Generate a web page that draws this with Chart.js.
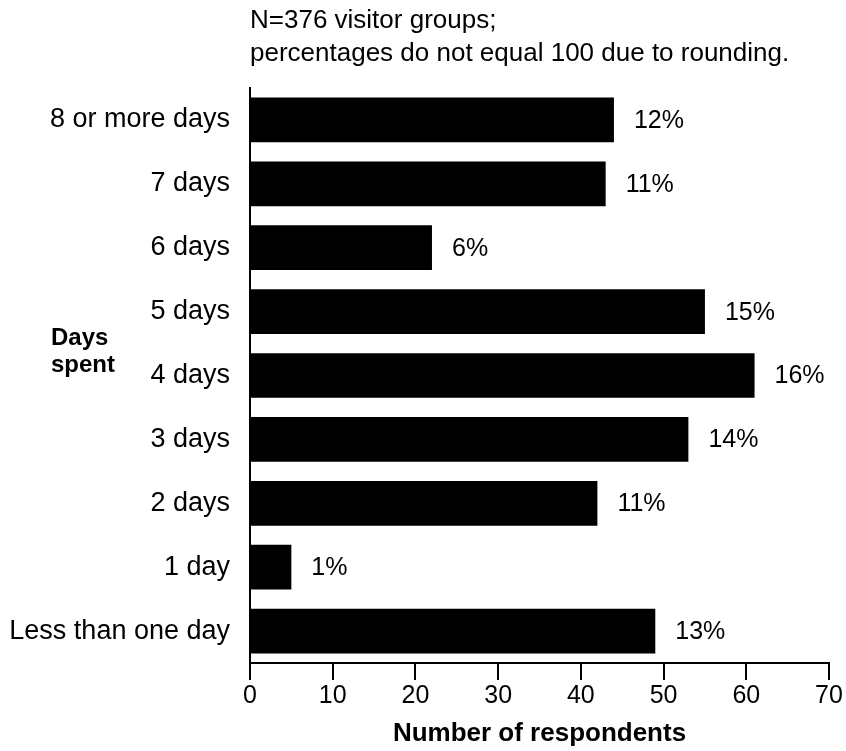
<!DOCTYPE html>
<html>
<head>
<meta charset="utf-8">
<script src="https://cdn.jsdelivr.net/npm/chart.js@4.4.1/dist/chart.umd.min.js"></script>
<style>
    html, body { margin: 0; padding: 0; background: #fff; }
    #wrap { width: 846px; height: 751px; }
</style>
</head>
<body>
<div id="wrap"><canvas id="diasGrafico" width="846" height="751"></canvas></div>
<script>
var categorias = ['8 or more days', '7 days', '6 days', '5 days', '4 days', '3 days', '2 days', '1 day', 'Less than one day'];
var respondents = [44, 43, 22, 55, 61, 53, 42, 5, 49];
var porcentajes = ['12%', '11%', '6%', '15%', '16%', '14%', '11%', '1%', '13%'];
var xMin = 0;
var xMax = 70;
var xStep = 10;
var notaLineas = ['N=376 visitor groups;', 'percentages do not equal 100 due to rounding.'];
var tituloY = ['Days', 'spent'];
var tituloX = 'Number of respondents';

var fuente = '"Liberation Sans", Arial, Helvetica, sans-serif';

// textos sueltos: nota de arriba, titulo del eje y, porcentajes al final de cada barra
var textosPlugin = {
    id: 'textos',
    afterDraw: function (chart) {
        let ctx = chart.ctx;
        ctx.save();
        ctx.fillStyle = '#000';
        ctx.textAlign = 'left';
        ctx.textBaseline = 'alphabetic';
        ctx.font = '26px ' + fuente;
        ctx.fillText(notaLineas[0], 250, 28);
        ctx.fillText(notaLineas[1], 250, 61);

        ctx.font = 'bold 24px ' + fuente;
        ctx.fillText(tituloY[0], 51, 345);
        ctx.fillText(tituloY[1], 51, 372);

        ctx.font = '25px ' + fuente;
        ctx.textBaseline = 'middle';
        let barras = chart.getDatasetMeta(0).data;
        for (let i = 0; i < barras.length; i++) {
            ctx.fillText(porcentajes[i], barras[i].x + 20, barras[i].y + 1);
        }
        ctx.restore();
    }
};

var chartDias = new Chart(document.getElementById('diasGrafico'), {
    type: 'bar',
    data: {
        labels: categorias,
        datasets: [{
            label: 'Respondents',
            data: respondents,
            backgroundColor: '#000',
            borderWidth: 0,
            barPercentage: 0.7,
            categoryPercentage: 1
        }]
    },
    options: {
        indexAxis: 'y',
        responsive: false,
        animation: false,
        devicePixelRatio: 1,
        layout: { padding: { top: 88, right: 17, left: 0, bottom: 0 } },
        plugins: {
            legend: { display: false },
            tooltip: { enabled: false }
        },
        scales: {
            x: {
                min: xMin,
                max: xMax,
                afterFit: function (scale) { scale.height = 88; },
                ticks: {
                    stepSize: xStep,
                    color: '#000',
                    padding: 1,
                    font: { family: fuente, size: 25 }
                },
                grid: {
                    drawOnChartArea: false,
                    drawTicks: true,
                    tickLength: 17,
                    color: '#000',
                    lineWidth: 2
                },
                border: { display: true, color: '#000', width: 2 },
                title: {
                    display: true,
                    text: tituloX,
                    color: '#000',
                    font: { family: fuente, size: 26, weight: 'bold' },
                    padding: { top: 0, bottom: 2 }
                }
            },
            y: {
                afterFit: function (scale) { scale.width = 250; },
                ticks: {
                    color: '#000',
                    padding: 20,
                    font: { family: fuente, size: 27 }
                },
                grid: {
                    drawOnChartArea: false,
                    drawTicks: false,
                    color: '#000'
                },
                border: { display: true, color: '#000', width: 2 }
            }
        }
    },
    plugins: [textosPlugin]
});
</script>
</body>
</html>
